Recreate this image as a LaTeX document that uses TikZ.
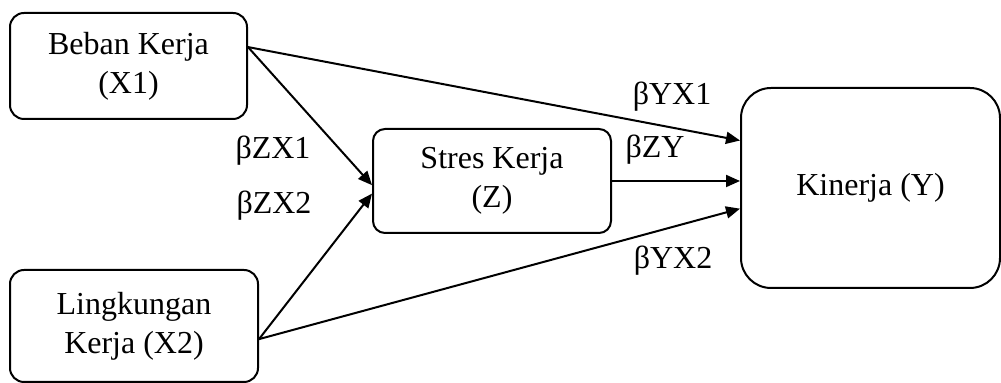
\documentclass[tikz,border=0pt]{standalone}
\usepackage{fontspec}
\setmainfont{Liberation Serif}
\usetikzlibrary{arrows.meta}
\tikzset{var/.style={draw,line width=1pt,rounded corners=7pt,align=center,
   inner sep=0pt,font=\fontsize{16}{19.5}\selectfont},
 effect/.style={line width=1pt,-{Triangle[length=7pt,width=6pt]}},
 coef/.style={font=\fontsize{16}{19.5}\selectfont},
 }

\begin{document}
\begin{tikzpicture}[x=0.5pt,y=-0.5pt]
    \useasboundingbox (0,0) rectangle (1001,383);
    % variables
    \node[var,minimum width=118.5pt,minimum height=53pt] (x1) at (128.5,66) {Beban Kerja\\(X1)};
    \node[var,minimum width=124pt,minimum height=56pt] (x2) at (134,326) {Lingkungan\\Kerja (X2)};
    \node[var,minimum width=119pt,minimum height=52pt,rounded corners=6pt] (z) at (492,181) {Stres Kerja\\(Z)};
    \node[var,minimum width=129.5pt,minimum height=100pt,rounded corners=15pt] (y) at (870.5,188) {Kinerja (Y)};
    % paths
    \draw[effect] (x1.9) -- (z.182);
    \draw[effect] (x2.354) -- (z.186);
    \draw[effect] (x1.9) -- (y.160);
    \draw[effect] (z.east) -- (z.east -| y.west);
    \draw[effect] (x2.354) -- (y.189);
    % coefficients
    \node[coef] (bzx1) at (273,151) {βZX1};
    \node[coef] (bzx2) at (274,206) {βZX2};
    \node[coef] (byx1) at (672,97) {βYX1};
    \node[coef] (bzy) at (655,150) {βZY};
    \node[coef] (byx2) at (673,261) {βYX2};
\end{tikzpicture}
\end{document}
